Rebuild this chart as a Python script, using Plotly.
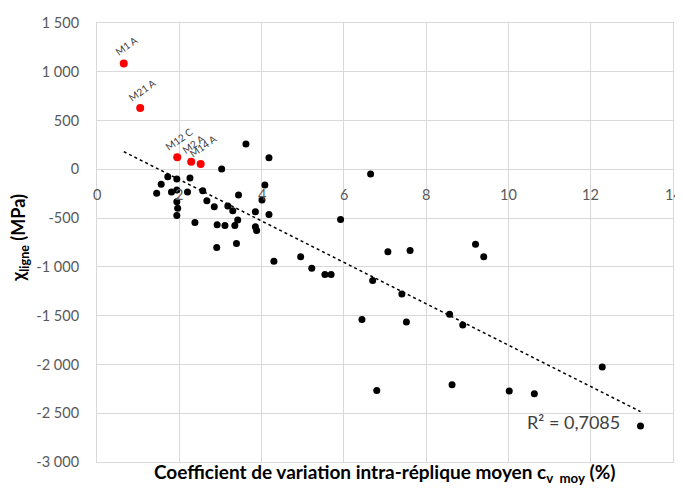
import numpy as np
import plotly.graph_objects as go

# --- data ---
black_x = [3.03, 3.62, 4.18, 1.72, 1.94, 2.26, 1.56, 1.45, 1.81, 1.94, 2.20, 2.57, 2.67, 2.85,
           3.18, 3.30, 3.44, 3.85, 4.18, 4.08, 4.01, 1.94, 1.96, 1.94, 2.38, 2.92, 3.11, 3.35,
           3.42, 3.85, 3.88, 2.91, 3.39, 4.30, 5.92, 4.95, 5.22, 5.54, 5.69, 6.65, 7.07, 7.61,
           9.20, 9.40, 6.70, 7.41, 6.44, 7.52, 8.57, 8.89, 6.80, 8.63, 10.02, 10.63, 12.28, 13.21]
black_y = [3, 260, 119, -76, -100, -89, -154, -246, -233, -213, -233, -220, -322, -384,
           -377, -425, -264, -435, -462, -161, -315, -332, -400, -472, -544, -569, -575, -575,
           -520, -589, -626, -801, -760, -941, -513, -897, -1013, -1078, -1078, -48, -846, -832,
           -767, -897, -1140, -1277, -1540, -1565, -1486, -1595, -2266, -2207, -2273, -2300, -2027, -2632]
red_names = ["M1 A", "M21 A", "M12 C", "M2 A", "M14 A"]
red_x = [0.65, 1.05, 1.95, 2.29, 2.52]
red_y = [1084, 629, 123, 78, 54]

x_ticks = [0, 2, 4, 6, 8, 10, 12, 14]
x_tick_text = ["0", "2", "4", "6", "8", "10", "12", "14"]
y_ticks = [1500, 1000, 500, 0, -500, -1000, -1500, -2000, -2500, -3000]
y_tick_text = ["1 500", "1 000", "500", "0", "-500", "-1 000", "-1 500", "-2 000", "-2 500", "-3 000"]
r2_text = "R² = 0,7085"
x_title = "<b>Coefficient de variation intra-réplique moyen c<sub>v  moy</sub> (%)</b>"
y_title = "<b>χ<sub>ligne</sub> (MPa)</b>"

FONT = "Lato"
GRID = "#d9d9d9"
TXT = "#595959"

# --- trendline (linear fit on all points) ---
all_x = np.array(black_x + red_x)
all_y = np.array(black_y + red_y)
slope, intercept = np.polyfit(all_x, all_y, 1)
tx = np.array([all_x.min(), all_x.max()])
ty = slope * tx + intercept

fig = go.Figure()
fig.add_trace(go.Scatter(x=tx, y=ty, mode="lines",
                         line=dict(color="black", width=1.5, dash="dot"),
                         hoverinfo="skip", showlegend=False))
fig.add_trace(go.Scatter(x=black_x, y=black_y, mode="markers",
                         marker=dict(color="black", size=7), showlegend=False))
fig.add_trace(go.Scatter(x=red_x, y=red_y, mode="markers",
                         marker=dict(color="#ff0000", size=8), showlegend=False))

annotations = []
for n, x, y in zip(red_names, red_x, red_y):
    annotations.append(dict(x=x, y=y, text=n, showarrow=False, textangle=-35,
                            xshift=2, yshift=18, font=dict(family=FONT, size=10, color="#404040")))
for v, t in zip(x_ticks, x_tick_text):
    annotations.append(dict(x=v, y=0, text=t, showarrow=False, yshift=-25,
                            font=dict(family=FONT, size=14.5, color=TXT)))
annotations.append(dict(x=11.58, y=-2594, text=r2_text, showarrow=False,
                        font=dict(family=FONT, size=18, color="#404040")))
annotations.append(dict(xref="paper", yref="paper", x=0.5, y=-0.026, text=x_title,
                        showarrow=False, xanchor="center", yanchor="middle",
                        font=dict(family=FONT, size=19, color="black")))
annotations.append(dict(xref="paper", yref="paper", x=-0.1344, y=0.51, text=y_title,
                        showarrow=False, xanchor="center", yanchor="middle", textangle=-90,
                        font=dict(family=FONT, size=18, color="black")))

# page body has an 8px margin, so the figure is shrunk and margins shifted to compensate
fig.update_layout(
    width=675, height=480,
    margin=dict(l=89, r=9.5, t=15, b=26, autoexpand=False),
    paper_bgcolor="white", plot_bgcolor="white",
    font=dict(family=FONT, size=14.5, color=TXT),
    annotations=annotations,
    xaxis=dict(range=[0, 14], tickvals=x_ticks, showticklabels=False, automargin=False,
               showgrid=True, gridcolor=GRID, gridwidth=1, zeroline=False,
               showline=True, linecolor=GRID, mirror=True),
    yaxis=dict(range=[-3000, 1500], tickvals=y_ticks, ticktext=y_tick_text, automargin=False,
               showgrid=True, gridcolor=GRID, gridwidth=1, zeroline=True, zerolinecolor=GRID,
               zerolinewidth=1, showline=True, linecolor=GRID, mirror=True,
               ticks="outside", ticklen=14, tickcolor="rgba(0,0,0,0)",
               tickfont=dict(family=FONT, size=14.5, color=TXT)),
)

fig.write_html("out.html")
